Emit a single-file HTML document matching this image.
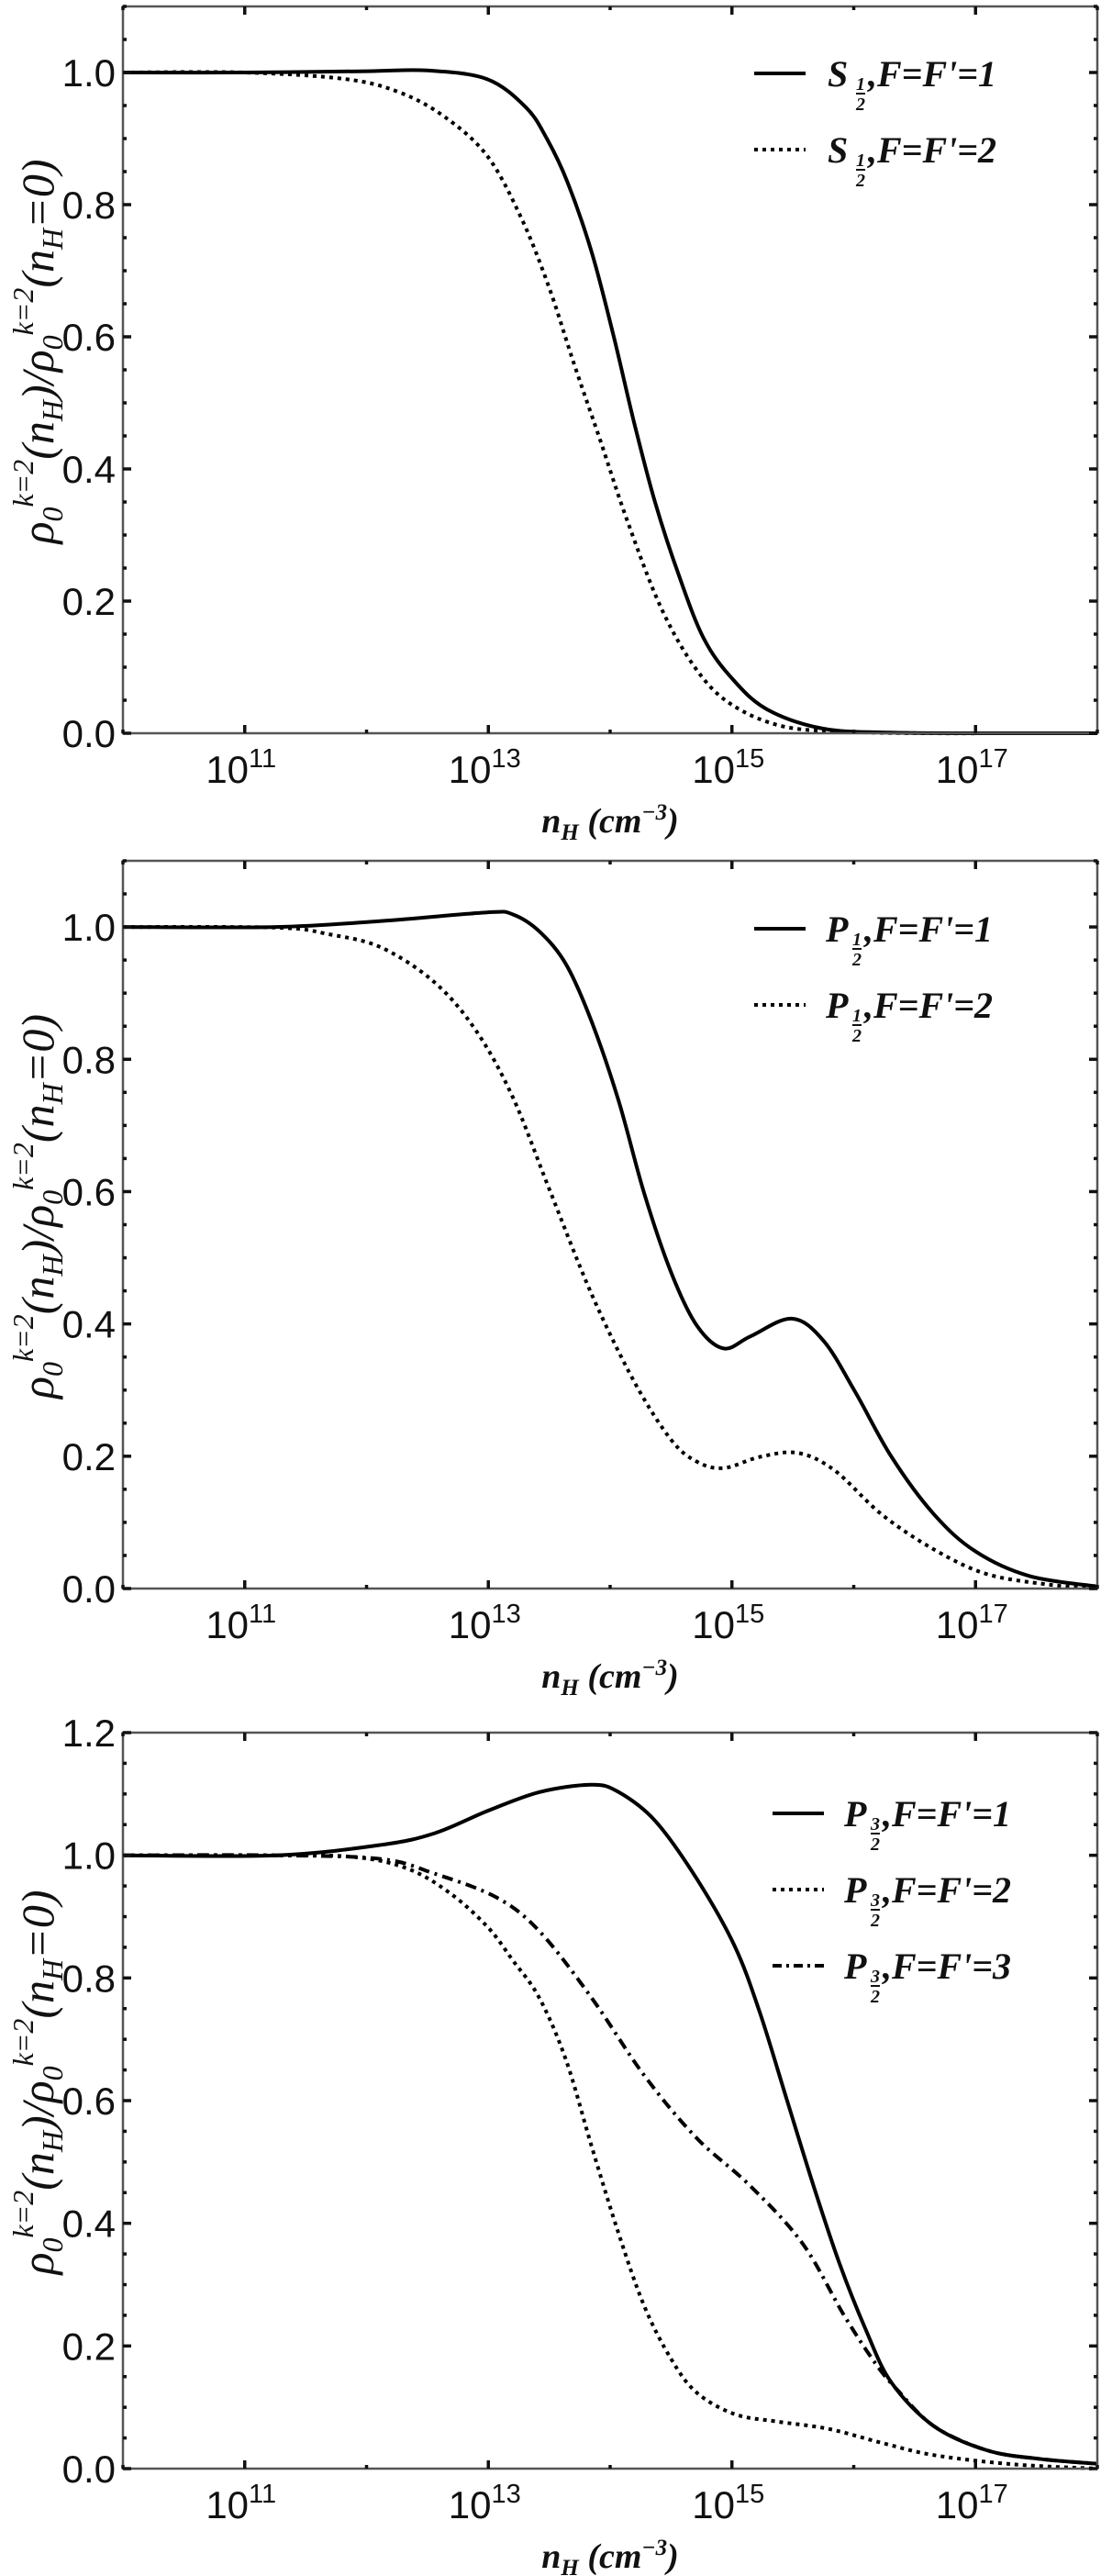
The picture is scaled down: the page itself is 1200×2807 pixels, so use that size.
<!DOCTYPE html>
<html><head><meta charset="utf-8"><style>
html,body{margin:0;padding:0;background:#fff}
svg{display:block}
.tick{font-family:"Liberation Sans",sans-serif;font-size:42px;fill:#111}
.sup{font-size:29px}
.leg{font-family:"Liberation Serif",serif;font-weight:bold;font-style:italic;font-size:40px;fill:#111}
.frac{font-family:"Liberation Serif",serif;font-weight:bold;font-style:italic;font-size:20px;fill:#111}
.ttl{font-family:"Liberation Serif",serif;font-weight:bold;font-style:italic;font-size:38px;fill:#111}
.yttl{font-family:"Liberation Serif",serif;font-style:italic;font-size:50px;fill:#111}
</style></head><body>
<svg id="fig" width="1200" height="2807" viewBox="0 0 1200 2807" xmlns="http://www.w3.org/2000/svg"></svg>
<script>
// ---- data (x = log10 n_H) ----
const p1SolidX = [10,11,12,12.5,12.99,13.31,13.48,13.65,13.85,14.03,14.2,14.37,14.57,14.77,15.0,15.29,15.75,16.3,17,18];
const p1SolidY = [1,1,1.002,1.003,0.99,0.947,0.90,0.834,0.727,0.60,0.468,0.349,0.236,0.143,0.083,0.036,0.007,0.001,0,0];
const p1DotX = [10,11,11.83,12.27,12.64,12.99,13.27,13.5,13.7,13.91,14.14,14.42,14.71,15.0,15.43,16.0,16.6,17.3,18];
const p1DotY = [1,1,0.99,0.97,0.933,0.874,0.78,0.674,0.561,0.448,0.322,0.189,0.096,0.043,0.010,0.002,0,0,0];

const p2SolidX = [10,11.26,12.12,12.99,13.2,13.42,13.64,13.85,14.07,14.28,14.5,14.71,14.93,15.15,15.49,15.75,16.01,16.31,16.66,17.0,17.44,18];
const p2SolidY = [1,1.0,1.009,1.022,1.019,0.993,0.943,0.856,0.737,0.597,0.478,0.398,0.363,0.381,0.408,0.375,0.298,0.199,0.112,0.056,0.019,0.003];
const p2DotX = [10,11.26,11.69,12.12,12.56,12.9,13.2,13.5,13.85,14.2,14.5,14.71,14.93,15.23,15.54,15.84,16.23,16.66,17.09,17.6,18];
const p2DotY = [1,0.999,0.989,0.969,0.916,0.843,0.743,0.604,0.444,0.312,0.225,0.192,0.182,0.199,0.205,0.179,0.112,0.059,0.022,0.006,0.0];

const p3SolidX = [10,11.26,12.12,12.56,12.99,13.42,13.85,14.07,14.37,14.71,15.02,15.23,15.45,15.67,15.88,16.1,16.31,16.66,17.09,17.52,18];
const p3SolidY = [1,1.0,1.017,1.036,1.072,1.103,1.115,1.103,1.056,0.962,0.853,0.743,0.602,0.461,0.336,0.226,0.14,0.069,0.030,0.016,0.008];
const p3DotX = [10,11.26,11.91,12.34,12.68,12.99,13.2,13.42,13.64,13.85,14.07,14.28,14.5,14.71,15.02,15.36,15.79,16.23,16.66,17.31,18];
const p3DotY = [1,1.0,0.997,0.978,0.939,0.884,0.829,0.767,0.665,0.524,0.383,0.265,0.179,0.124,0.089,0.077,0.065,0.042,0.022,0.007,0.0];
const p3DashX = [10,11.26,12.12,12.56,13.07,13.42,13.85,14.28,14.71,15.15,15.58,15.92,16.18,16.36,16.66,17.09,17.52,18];
const p3DashY = [1,1.0,0.994,0.97,0.931,0.876,0.767,0.641,0.539,0.461,0.367,0.25,0.171,0.128,0.069,0.030,0.016,0.008];

const xTickExps = [11,13,15,17];
const yTicks12 = ["0.0","0.2","0.4","0.6","0.8","1.0"];
const yTicks3 = ["0.0","0.2","0.4","0.6","0.8","1.0","1.2"];

const NS = "http://www.w3.org/2000/svg";
const svg = document.getElementById('fig');
function mk(tag, attrs, parent){
  const e = document.createElementNS(NS, tag);
  for (const k in attrs) e.setAttribute(k, attrs[k]);
  (parent||svg).appendChild(e);
  return e;
}
const L = 134, R = 1196;
function sx(v){ return L + (v-10)*(R-L)/8; }

function smoothPath(px, py){
  let d = "M"+px[0].toFixed(1)+","+py[0].toFixed(1);
  for (let i=0;i<px.length-1;i++){
    const x0=px[Math.max(0,i-1)], y0=py[Math.max(0,i-1)];
    const x1=px[i], y1=py[i], x2=px[i+1], y2=py[i+1];
    const x3=px[Math.min(px.length-1,i+2)], y3=py[Math.min(px.length-1,i+2)];
    const c1x=x1+(x2-x0)/6, c1y=y1+(y2-y0)/6, c2x=x2-(x3-x1)/6, c2y=y2-(y3-y1)/6;
    d += " C"+c1x.toFixed(1)+","+c1y.toFixed(1)+" "+c2x.toFixed(1)+","+c2y.toFixed(1)+" "+x2.toFixed(1)+","+y2.toFixed(1);
  }
  return d;
}

function panel(idx, top, bottom, ymax, yLabels, series, legendLetter, legendSub, legX, legTextX, legY0){
  const g = mk('g', {});
  
  
  const sy = v => bottom - v*(bottom-top)/ymax;
  series.forEach((s, si) => {
    const px = s.x.map(sx), py = s.y.map(sy);
    const p = mk('path', {d: smoothPath(px,py), fill:'none', stroke:'#000', 'stroke-width':4, 'stroke-dasharray': s.dash, 'stroke-linejoin':'round'}, g);
    
    
  });
  const fr = mk('rect', {x:L, y:top, width:R-L, height:bottom-top, fill:'none', stroke:'#555', 'stroke-width':2.5}, g);
  
  
  for (let e=10;e<=18;e++){
    const x = sx(e), major = (e%2===1);
    const len = major ? 9 : 4;
    mk('line', {x1:x, y1:bottom, x2:x, y2:bottom-len, stroke:'#111', 'stroke-width':3.5}, g);
    mk('line', {x1:x, y1:top, x2:x, y2:top+len, stroke:'#111', 'stroke-width':3.5}, g);
  }
  xTickExps.forEach(e => {
    const t = mk('text', {x:sx(e)-4, y:bottom+54, 'text-anchor':'middle', class:'tick'}, g);
    
    
    t.appendChild(document.createTextNode('10'));
    const ts = mk('tspan', {class:'sup', dy:-17}, t);
    ts.textContent = String(e);
  });
  const nMinor = Math.round(ymax/0.05);
  for (let i=0;i<=nMinor;i++){
    const y = sy(i*0.05), len = (i%4===0)?9:4;
    mk('line', {x1:L, y1:y, x2:L+len, y2:y, stroke:'#111', 'stroke-width':3.5}, g);
    mk('line', {x1:R, y1:y, x2:R-len, y2:y, stroke:'#111', 'stroke-width':3.5}, g);
  }
  yLabels.forEach((lab,i) => {
    const t = mk('text', {x:126, y:sy(i*0.2)+15, 'text-anchor':'end', class:'tick'}, g);
    
    
    t.textContent = lab;
  });
  const xt = mk('text', {x:665, y:bottom+108, 'text-anchor':'middle', class:'ttl'}, g);
  
  
  xt.appendChild(document.createTextNode('n'));
  let t1 = mk('tspan', {dy:8, 'font-size':25}, xt); t1.textContent='H';
  let t2 = mk('tspan', {dy:-8}, xt); t2.textContent=' (cm';
  let t3 = mk('tspan', {dy:-14, 'font-size':25}, xt); t3.textContent='\u22123';
  let t4 = mk('tspan', {dy:14}, xt); t4.textContent=')';
  const cy = (top+bottom)/2 - 20;
  const yt = mk('text', {x:0, y:0, 'text-anchor':'middle', class:'yttl', transform:'translate(58,'+cy+') rotate(-90)'}, g);
  
  
  const parts = [['ρ',0,null],['0',10,32],['k=2',-32,32],['(n',22,null],['H',10,32],[')/ρ',-10,null],['0',10,32],['k=2',-32,32],['(n',22,null],['H',10,32],['=0)',-10,null]];
  parts.forEach(p => { const s = mk('tspan', {dy:p[1]}, yt); if (p[2]) s.setAttribute('font-size', p[2]); s.textContent = p[0]; });
  series.forEach((s, si) => {
    const y = legY0 + si*83;
    const lg = mk('g', {}, g);
    
    
    mk('line', {x1:legX, y1:y, x2:legX+56, y2:y, stroke:'#000', 'stroke-width':4, 'stroke-dasharray': s.legDash}, lg);
    const tx = mk('text', {x:legTextX, y:y+14, class:'leg'}, lg);
    tx.textContent = legendLetter;
    const fx = legTextX + (legendLetter==='S'?36:34);
    const fa = mk('text', {x:fx, y:y+18, 'text-anchor':'middle', class:'frac'}, lg); fa.textContent = legendSub[0];
    mk('line', {x1:fx-5, y1:y+22, x2:fx+5, y2:y+22, stroke:'#111', 'stroke-width':2}, lg);
    const fb = mk('text', {x:fx, y:y+40, 'text-anchor':'middle', class:'frac'}, lg); fb.textContent = legendSub[1];
    const rest = mk('text', {x:fx+8, y:y+14, class:'leg'}, lg);
    rest.textContent = ",F=F'=" + (si+1);
  });
}

panel(1, 7, 799, 1.1, yTicks12, [
  {x:p1SolidX, y:p1SolidY, dash:'none', legDash:'none', name:'s12-f1-line'},
  {x:p1DotX, y:p1DotY, dash:'4,5', legDash:'4,5', name:'s12-f2-line'}
], 'S', ['1','2'], 822, 902, 80);

panel(2, 938, 1731, 1.1, yTicks12, [
  {x:p2SolidX, y:p2SolidY, dash:'none', legDash:'none', name:'p12-f1-line'},
  {x:p2DotX, y:p2DotY, dash:'4,5', legDash:'4,5', name:'p12-f2-line'}
], 'P', ['1','2'], 822, 900, 1012);

panel(3, 1888, 2690, 1.2, yTicks3, [
  {x:p3SolidX, y:p3SolidY, dash:'none', legDash:'none', name:'p32-f1-line'},
  {x:p3DotX, y:p3DotY, dash:'4,5', legDash:'4,5', name:'p32-f2-line'},
  {x:p3DashX, y:p3DashY, dash:'12,6,3,6', legDash:'10,5,3,5', name:'p32-f3-line'}
], 'P', ['3','2'], 842, 920, 1976);
</script>
</body></html>
